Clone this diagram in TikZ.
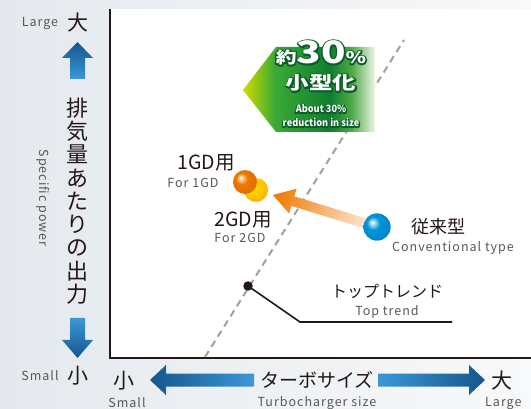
\documentclass[tikz,border=0pt]{standalone}
\usepackage{fontspec}
\setmainfont{Noto Sans CJK JP}
\newfontfamily\badgefont[FakeStretch=1.3]{Noto Sans CJK JP}
\newfontfamily\badgesmallfont[FakeStretch=0.92]{Noto Sans CJK JP}
\usetikzlibrary{positioning,calc}

\definecolor{inkdark}{HTML}{231815}
\definecolor{inkgray}{HTML}{595757}
\definecolor{bgleft}{HTML}{E4E9EE}
\definecolor{bgright}{HTML}{F8F9FA}
\definecolor{axisdark}{HTML}{14578E}
\definecolor{axislight}{HTML}{3C97D8}
\definecolor{gyel}{HTML}{D2DC00}
\definecolor{ggreen}{HTML}{3AAA35}
\definecolor{gdark}{HTML}{0F7F30}
\definecolor{gmid}{HTML}{4FA845}
\definecolor{gpale}{HTML}{EEF5E8}
\definecolor{goutline}{HTML}{0B5E27}
\definecolor{orng}{HTML}{EE7800}
\definecolor{yelw}{HTML}{FFD200}
\definecolor{skyb}{HTML}{0096DC}
\definecolor{dashgray}{HTML}{9FA0A0}

% thick stroked copy of a text, laid under the white one
\newcommand\strokedtext[2]{\special{pdf:literal direct 2 Tr #1 w 1 j 1 J}#2\special{pdf:literal direct 0 Tr}}

\pgfdeclarehorizontalshading{badgefade}{100bp}{color(0bp)=(gyel); color(25bp)=(gyel); color(37bp)=(ggreen); color(58bp)=(gdark); color(66bp)=(gmid); color(75bp)=(gpale); color(100bp)=(gpale)}
\pgfdeclareradialshading{orangeball}{\pgfpoint{-9bp}{9bp}}{color(0bp)=(white); color(5bp)=(orng!45!white); color(12bp)=(orng); color(25bp)=(orng!95!black); color(50bp)=(orng!95!black)}
\pgfdeclareradialshading{yellowball}{\pgfpoint{-9bp}{9bp}}{color(0bp)=(yelw!40!white); color(6bp)=(yelw); color(18bp)=(yelw!90!orng); color(25bp)=(yelw!75!orng); color(50bp)=(yelw!75!orng)}
\pgfdeclareradialshading{blueball}{\pgfpoint{-9bp}{9bp}}{color(0bp)=(white); color(5bp)=(skyb!40!white); color(12bp)=(skyb); color(25bp)=(skyb!92!black); color(50bp)=(skyb!92!black)}

\begin{document}
\begin{tikzpicture}[x=1pt, y=1pt,
    jplabel/.style={inner sep=0pt, text=inkdark, font=\fontsize{18}{20}\selectfont},
    enlabel/.style={inner sep=0pt, text=inkgray, font=\fontsize{12.5}{14}\selectfont\addfontfeature{LetterSpace=8}},
    axisjp/.style={inner sep=0pt, text=inkdark, font=\fontsize{21}{22}\selectfont},
    badgetext/.style={inner sep=0pt, text=white, font=\badgefont\bfseries\fontsize{#1}{#1}\selectfont},
    badgeline/.style={badgetext=#1, text=goutline},
    badgesmall/.style={inner sep=0pt, text=white, align=center, font=\badgesmallfont\bfseries\fontsize{10}{14}\selectfont},
    ballnode/.style={circle, inner sep=0pt, minimum size=#1, shade}]
    \useasboundingbox (0,0) rectangle (531,-409);
    \shade[left color=bgleft, right color=bgright] (0,0) rectangle (531,-409);
    \fill[white] (110,-9) rectangle (531,-358);
    \draw[inkdark, line width=1.3pt] (110,-9) -- (110,-358) -- (531,-358);

    % vertical axis
    \node (vlarge) [enlabel] at (40,-23) {Large};
    \node (vbig) [axisjp] at (77.5,-23) {大};
    \path[top color=axisdark, bottom color=axislight] (77.5,-42) -- (93,-58) -- (85,-58) -- (85,-79) -- (70,-79) -- (70,-58) -- (62,-58) -- cycle;
    \node (vtitle) [axisjp, font=\fontsize{22}{23.3}\selectfont, align=center] at (77.5,-201) {排\\気\\量\\あ\\た\\り\\の\\出\\力};
    \node (vtitleen) [enlabel, rotate=-90] at (43,-198) {Specific power};
    \path[top color=axislight, bottom color=axisdark] (77.5,-358) -- (93,-340) -- (85,-340) -- (85,-318) -- (70,-318) -- (70,-340) -- (62,-340) -- cycle;
    \node (vsmall) [enlabel] at (40,-376) {Small};
    \node (vlittle) [axisjp] at (77.5,-376) {小};

    % horizontal axis
    \node (hlittle) [axisjp] at (124,-381) {小};
    \path[left color=axisdark, right color=axislight] (150,-380) -- (166,-365) -- (166,-373.5) -- (254,-373.5) -- (254,-386.5) -- (166,-386.5) -- (166,-395) -- cycle;
    \node (htitle) [axisjp, font=\fontsize{19}{20}\selectfont] at (317,-380) {ターボサイズ};
    \path[left color=axislight, right color=axisdark] (485,-380) -- (469,-365) -- (469,-373.5) -- (378,-373.5) -- (378,-386.5) -- (469,-386.5) -- (469,-395) -- cycle;
    \node (hbig) [axisjp] at (502,-381) {大};
    \node (hsmall) [enlabel] at (127,-403) {Small};
    \node (htitleen) [enlabel] at (317,-403) {Turbocharger size};
    \node (hlarge) [enlabel, anchor=west] at (485,-403) {Large};

    % trend line
    \coordinate (dashlow) at (205,-357);
    \coordinate (dashhigh) at (404,-40);
    \draw[dashgray, line width=2pt, dash pattern=on 7pt off 5pt] (dashlow) -- (dashhigh);
    \node (trenddot) [circle, fill=inkdark, inner sep=0pt, minimum size=9.5pt] at (248,-286) {};
    \coordinate (trendkink) at (300,-322);
    \coordinate (trendend) at (452,-322);
    \draw[inkdark, line width=1.6pt] (trenddot.center) -- (trendkink) -- (trendend);
    \node (trendjp) [jplabel, font=\fontsize{16}{18}\selectfont] at (387,-291) {トップトレンド};
    \node (trenden) [enlabel] at (387,-312) {Top trend};

    % reduction badge
    \path[shading=badgefade] (243,-90) -- (276,-47) -- (375,-47) -- (375,-132) -- (276,-132) -- cycle;
    \node (pctline) [badgeline=16] at (321,-53) {\strokedtext{3}{約\fontsize{31}{31}\selectfont 30\fontsize{16}{16}\selectfont\%}};
    \node (badgepct) [badgetext=16] at (321,-53) {約\fontsize{31}{31}\selectfont 30\fontsize{16}{16}\selectfont\%};
    \node (shrinkline) [badgeline=18] at (321,-83) {\strokedtext{3}{小型化}};
    \node (badgejp) [badgetext=18] at (321,-83) {小型化};
    \node (aboutline) [badgesmall, text=goutline] at (321,-116) {\strokedtext{2.4}{About 30\%}\\\strokedtext{2.4}{reduction in size}};
    \node (badgeen) [badgesmall] at (321,-116) {About 30\%\\reduction in size};

    % balls and arrow
    \node (conv) [ballnode=27pt, shading=blueball] at (377,-227) {};
    \coordinate (shrinktip) at (273,-195);
    \begin{scope}[transform canvas={shift={(conv.center)}, rotate=162.9}]
        \path[left color=orng!8!white, middle color=orng!70!white, right color=orng] (0,5) -- (88,5) -- (88,13) -- (108.8,0) -- (88,-13) -- (88,-5) -- (0,-5) -- cycle;
    \end{scope}
    \node (conv) [ballnode=27pt, shading=blueball] at (377,-227) {};
    \node (gdtwo) [ballnode=24pt, shading=yellowball] at (256,-190) {};
    \node (gdone) [ballnode=24pt, shading=orangeball] at (245,-182) {};

    \node (gdonejp) [jplabel, font=\fontsize{19.5}{21}\selectfont] at (206,-163) {1GD用};
    \node (gdoneen) [enlabel] at (193,-183) {For 1GD};
    \node (gdtwojp) [jplabel, font=\fontsize{19.5}{21}\selectfont] at (243,-220) {2GD用};
    \node (gdtwoen) [enlabel] at (240,-238) {For 2GD};
    \node (convjp) [jplabel] at (438,-227) {従来型};
    \node (conven) [enlabel] at (453,-248) {Conventional type};
\end{tikzpicture}
\end{document}
